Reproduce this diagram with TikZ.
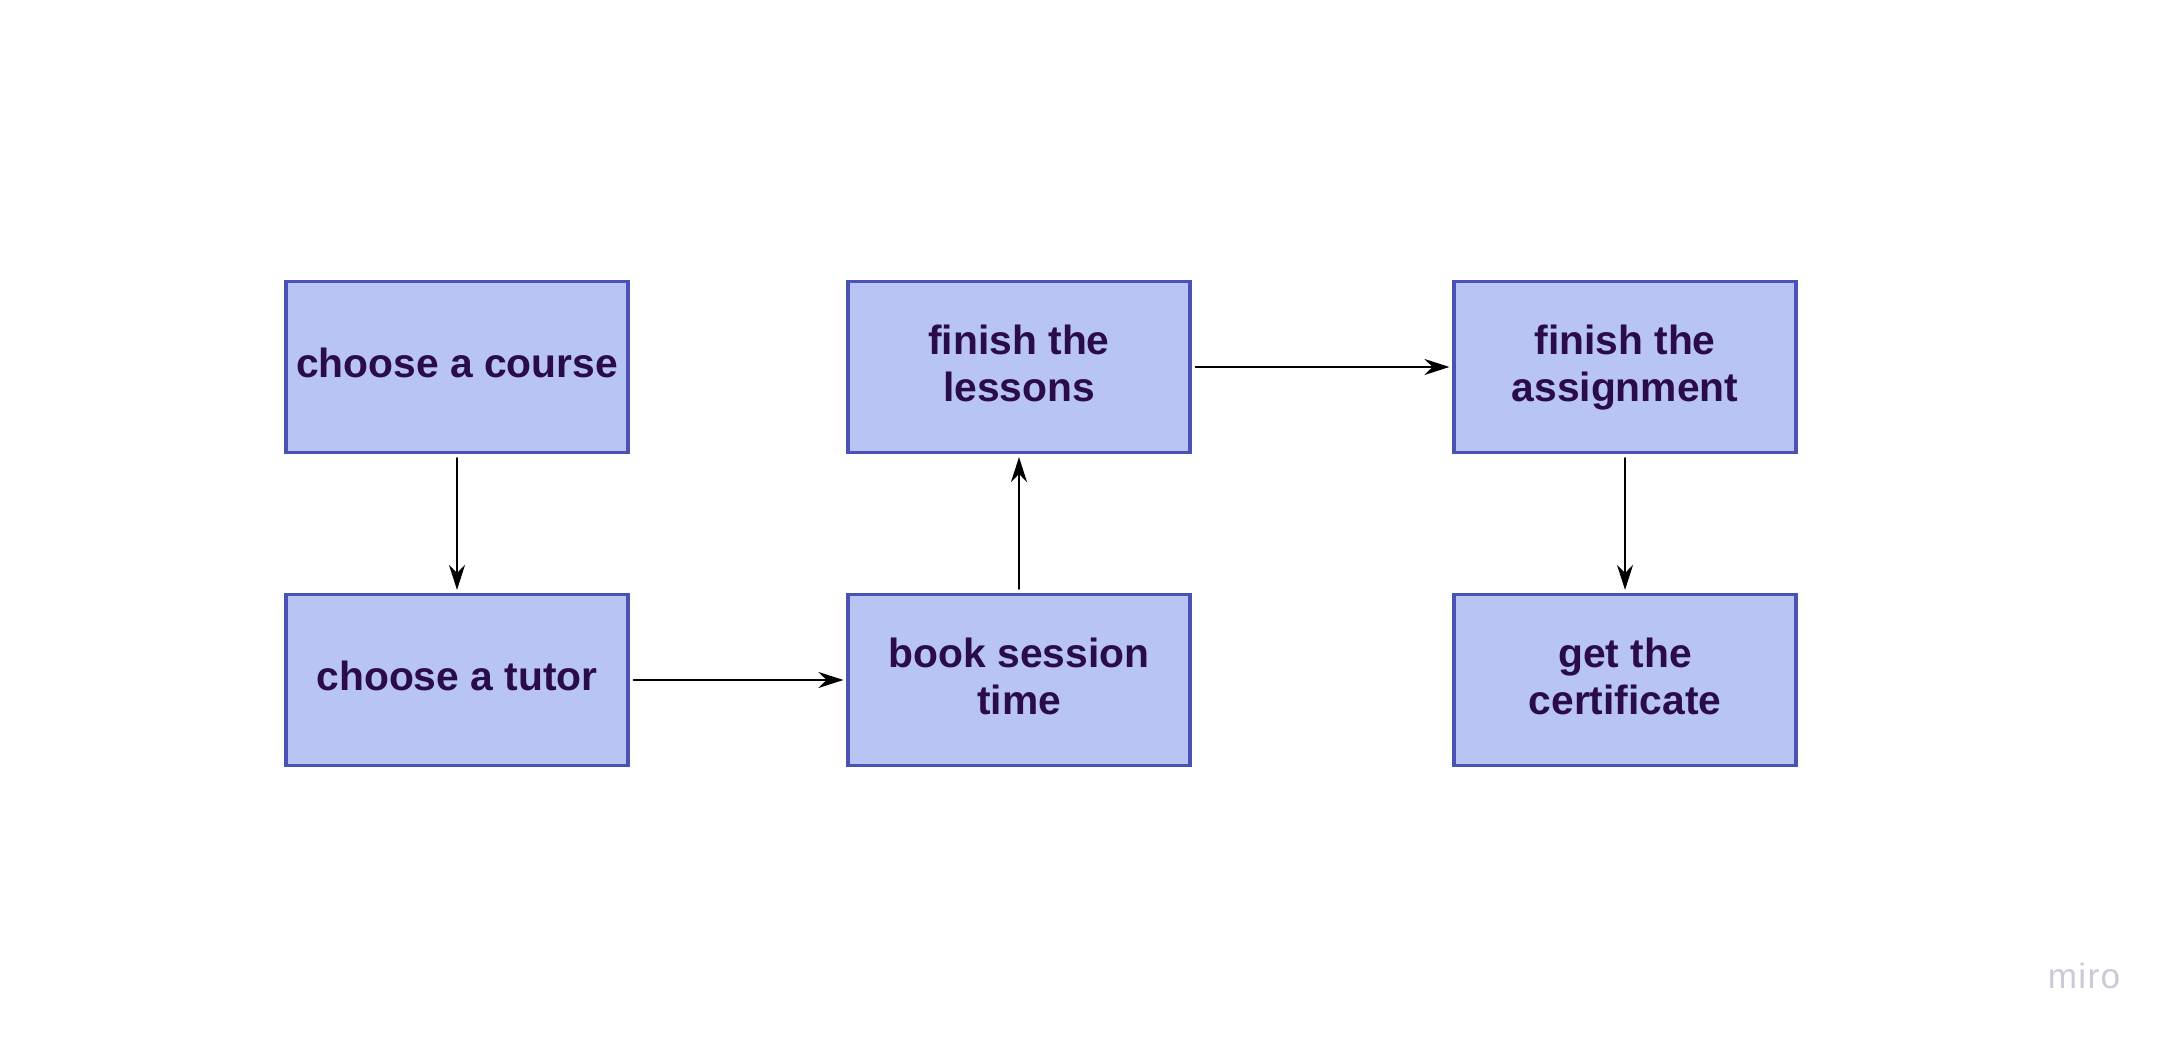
\documentclass[tikz,border=0pt]{standalone}
\usepackage{fontspec}
\setmainfont{Liberation Sans}
\usetikzlibrary{arrows.meta}
\definecolor{boxfill}{HTML}{B8C4F3}
\definecolor{boxline}{HTML}{4A52B6}
\definecolor{boxtext}{HTML}{2A0B4B}
\definecolor{logo}{HTML}{C8CAD6}
\begin{document}
\begin{tikzpicture}[line cap=round,every node/.style={font=\bfseries\fontsize{11.6}{13.4}\selectfont}]
\tikzset{B/.style={rectangle,draw=boxline,fill=boxfill,line width=0.9pt,minimum width=3.42cm,minimum height=1.71cm,
  align=center,text=boxtext,inner sep=0pt,text depth=0.08cm},ar/.style={-{Stealth[length=2.5mm,width=1.6mm]},line width=0.6pt,shorten <=0.04cm,shorten >=0.03cm}}
\useasboundingbox (0,0) rectangle (21.69,10.37);
\node[B] (c) at (4.57,6.70) {choose a course};
\node[B] (t) at (4.57,3.57) {choose a tutor};
\node[B] (s) at (10.19,3.57) {book session\\time};
\node[B] (l) at (10.19,6.70) {finish the\\lessons};
\node[B] (a) at (16.25,6.70) {finish the\\assignment};
\node[B] (g) at (16.25,3.57) {get the\\certificate};
\draw[ar] (c)--(t); \draw[ar] (t)--(s); \draw[ar] (s)--(l);
\draw[ar] (l)--(a); \draw[ar] (a)--(g);
\node[font=\fontsize{10}{12}\selectfont,text=logo] (m) at (20.84,0.61) {m\kern0.4pt i\kern0.4pt r\kern0.4pt o};
\end{tikzpicture}
\end{document}
